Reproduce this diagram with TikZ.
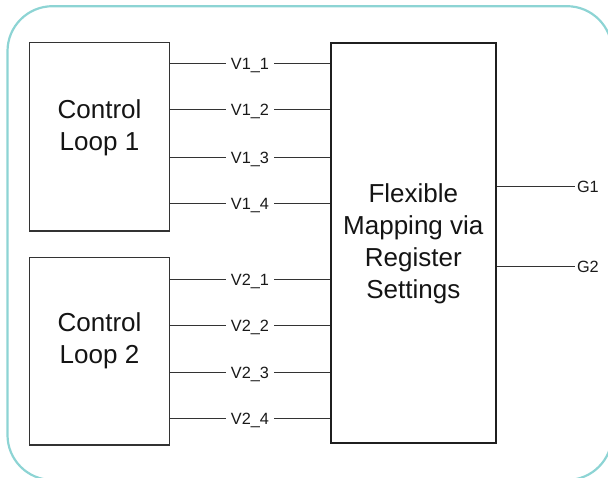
\documentclass[tikz,border=0pt]{standalone}
\usepackage{fontspec}
\setmainfont{Liberation Sans}
\usetikzlibrary{calc}
\definecolor{frame}{HTML}{8DD4D4}
\definecolor{edge}{HTML}{333333}
\tikzset{
  outer/.style={draw=frame, line width=2.2pt, rounded corners=45pt},
  loopbox/.style={draw=edge, line width=1.2pt, minimum width=140pt, inner sep=0pt, fill=white},
  mapbox/.style={draw=black!88, line width=1.7pt, minimum width=165pt, minimum height=400pt, inner sep=0pt},
  boxtext/.style={align=center, font=\fontsize{26}{32}\selectfont, text=black!92, inner sep=0pt},
  wire/.style={draw=edge, line width=1pt},
  lab/.style={fill=white, inner ysep=1pt, inner xsep=5pt, text height=11.5pt, text depth=0pt, font=\fontsize{16.3}{19}\selectfont, text=black!90},
  glab/.style={anchor=west, inner sep=1.5pt, text height=11.5pt, text depth=0pt, font=\fontsize{16.3}{19}\selectfont, text=black!90}
}
\begin{document}
\begin{tikzpicture}[x=1pt,y=-1pt]
\useasboundingbox (0,0) rectangle (608,478);
\begin{scope}
\clip (0,0) rectangle (608,478);
\draw[outer] (7.5,6.2) rectangle (612,480);
\end{scope}
\node[loopbox, minimum height=188.5pt] (c1) at (99.5,136.75) {};
\node[loopbox, minimum height=187.5pt] (c2) at (99.5,351.25) {};
\node[mapbox] (m) at (413.3,242.7) {};
\node[boxtext] (t1) at ([yshift=9pt]c1.center) {Control\\Loop 1};
\node[boxtext] (t2) at ([yshift=10.5pt]c2.center) {Control\\Loop 2};
\node[boxtext] (tm) at ([yshift=-1.5pt]m.center) {Flexible\\Mapping via\\Register\\Settings};
\foreach \yy/\nm [count=\i] in {63.3/V1\_1, 110/V1\_2, 157.5/V1\_3, 204/V1\_4}{
  \coordinate (ya\i) at (0,\yy);
  \draw[wire] (c1.east |- ya\i) -- node[lab] {\nm} (m.west |- ya\i);
}
\foreach \yy/\nm [count=\i] in {279.5/V2\_1, 325.5/V2\_2, 373/V2\_3, 418.5/V2\_4}{
  \coordinate (yb\i) at (0,\yy);
  \draw[wire] (c2.east |- yb\i) -- node[lab] {\nm} (m.west |- yb\i);
}
\coordinate (g1end) at (575,187);
\coordinate (g2end) at (575,266.7);
\draw[wire] (m.east |- g1end) -- (g1end) node[glab] (g1) {G1};
\draw[wire] (m.east |- g2end) -- (g2end) node[glab] (g2) {G2};
\end{tikzpicture}
\end{document}
